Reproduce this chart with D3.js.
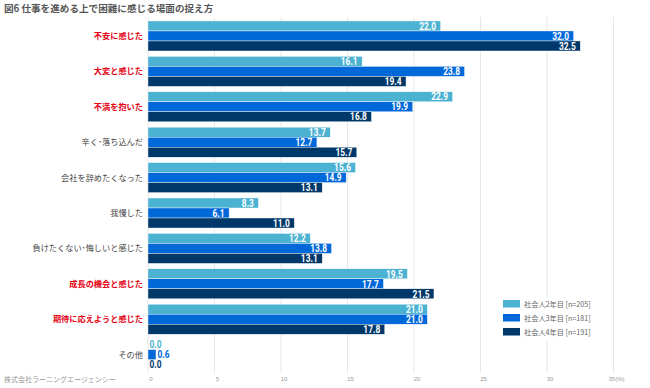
<!DOCTYPE html>
<html>
<head>
<meta charset="utf-8">
<script src="https://cdn.jsdelivr.net/npm/d3@7"></script>
<style>
  body { margin: 0; background: #fff; }
  svg { display: block; font-family: "Noto Sans CJK JP", sans-serif; }
</style>
</head>
<body>
<div id="chart"></div>
<script>
// data
var categories = ["不安に感じた", "大変と感じた", "不満を抱いた", "辛く･落ち込んだ", "会社を辞めたくなった",
  "我慢した", "負けたくない･悔しいと感じた", "成長の機会と感じた", "期待に応えようと感じた", "その他"];
var highlighted = ["不安に感じた", "大変と感じた", "不満を抱いた", "成長の機会と感じた", "期待に応えようと感じた"];
var seriesNames = ["社会人2年目 [n=205]", "社会人3年目 [n=181]", "社会人4年目 [n=191]"];
var year2 = [22.0, 16.1, 22.9, 13.7, 15.6, 8.3, 12.2, 19.5, 21.0, 0.0];
var year3 = [32.0, 23.8, 19.9, 12.7, 14.9, 6.1, 13.8, 17.7, 21.0, 0.6];
var year4 = [32.5, 19.4, 16.8, 15.7, 13.1, 11.0, 13.1, 21.5, 17.8, 0.0];
var colors = ["#4cb2d2", "#0068d8", "#00386a"];
var xTicks = [0, 5, 10, 15, 20, 25, 30, 35];

var width = 650, height = 388;
var values = [year2, year3, year4];

var svg = d3.select("#chart").append("svg")
  .attr("width", width)
  .attr("height", height);

var x = d3.scaleLinear().domain([0, 35]).range([148, 613.5]);
var y = d3.scaleBand().domain(categories).range([18.5, 372.1])
  .paddingInner(0.1525).paddingOuter(0.07);
var ySub = d3.scaleBand().domain(d3.range(seriesNames.length)).range([0, y.bandwidth()]);

// gridlines
svg.append("g")
  .selectAll("line")
  .data(xTicks)
  .enter().append("line")
  .attr("x1", function(d) { return x(d); })
  .attr("x2", function(d) { return x(d); })
  .attr("y1", 17)
  .attr("y2", 373)
  .attr("stroke", "#e6e6e6")
  .attr("stroke-width", 1);

// tick labels
svg.append("g")
  .selectAll("text")
  .data(xTicks)
  .enter().append("text")
  .attr("x", function(d) { return x(d) + 3; })
  .attr("y", 381)
  .attr("text-anchor", "middle")
  .attr("font-family", "Liberation Sans, sans-serif")
  .attr("font-size", 6)
  .attr("fill", "#999")
  .text(function(d) { return d === 35 ? "35(%)" : d; });

// bars
var groups = svg.append("g")
  .selectAll("g")
  .data(categories)
  .enter().append("g")
  .attr("transform", function(d) { return "translate(0," + y(d) + ")"; });

groups.each(function(cat, i) {
  var g = d3.select(this);
  values.forEach(function(vals, s) {
    var v = vals[i];
    g.append("rect")
      .attr("x", x(0))
      .attr("y", ySub(s))
      .attr("width", x(v) - x(0))
      .attr("height", ySub.bandwidth())
      .attr("fill", colors[s])
      .attr("stroke", "#fff")
      .attr("stroke-width", 0.4);

    // condensed look: squeeze the label horizontally
    var inside = x(v) - x(0) > 25;
    var tx = inside ? x(v) - 4.5 : x(v) + 1.5;
    var ty = ySub(s) + ySub.bandwidth() - 1.3;
    g.append("text")
      .attr("transform", "translate(" + tx + "," + ty + ") scale(0.84,1)")
      .attr("text-anchor", inside ? "end" : "start")
      .attr("font-family", "Roboto, sans-serif")
      .attr("font-weight", "bold")
      .attr("font-size", 10)
      .attr("fill", inside ? "#fff" : colors[s])
      .text(v.toFixed(1));
  });
});

// category labels
svg.append("g")
  .selectAll("text")
  .data(categories)
  .enter().append("text")
  .attr("x", 143)
  .attr("y", function(d) { return y(d) + y.bandwidth() / 2 + 3; })
  .attr("text-anchor", "end")
  .attr("font-size", 8.2)
  .attr("font-weight", function(d) { return highlighted.indexOf(d) >= 0 ? "bold" : "normal"; })
  .attr("fill", function(d) { return highlighted.indexOf(d) >= 0 ? "#e60012" : "#444"; })
  .text(function(d) { return d; });

// legend
var legend = svg.append("g");
legend.append("rect")
  .attr("x", 497).attr("y", 297)
  .attr("width", 110).attr("height", 44)
  .attr("fill", "#fff");
seriesNames.forEach(function(name, s) {
  legend.append("rect")
    .attr("x", 503).attr("y", 300 + s * 14)
    .attr("width", 17).attr("height", 7.5)
    .attr("fill", colors[s]);
  legend.append("text")
    .attr("x", 524).attr("y", 306.5 + s * 14)
    .attr("font-size", 7.2)
    .attr("fill", "#666")
    .text(name);
});

// title and source
svg.append("text")
  .attr("x", 4).attr("y", 12)
  .attr("font-size", 9.6)
  .attr("font-weight", "bold")
  .attr("fill", "#555")
  .text("図6 仕事を進める上で困難に感じる場面の捉え方");

svg.append("text")
  .attr("x", 4).attr("y", 382)
  .attr("font-size", 7)
  .attr("fill", "#999")
  .text("株式会社ラーニングエージェンシー");
</script>
</body>
</html>
